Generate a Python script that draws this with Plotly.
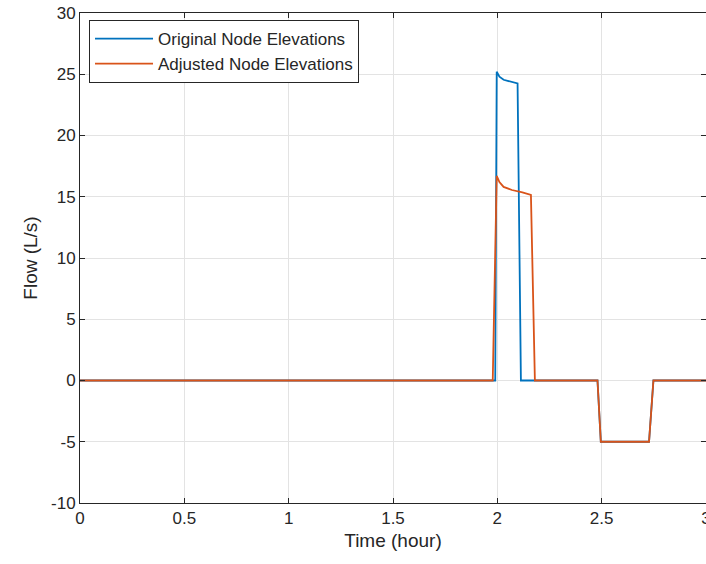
import plotly.graph_objects as go

# Data
t_orig = [0, 1.99, 1.997, 2.01, 2.03, 2.06, 2.097, 2.113, 2.48, 2.496, 2.727, 2.748, 3.0]
q_orig = [0, 0, 25.2, 24.8, 24.55, 24.4, 24.25, 0, 0, -5, -5, 0, 0]

t_adj = [0, 1.978, 1.997, 2.01, 2.03, 2.07, 2.12, 2.161, 2.18, 2.48, 2.496, 2.727, 2.748, 3.0]
q_adj = [0, 0, 16.7, 16.2, 15.8, 15.55, 15.35, 15.15, 0, 0, -5, -5, 0, 0]

x_ticks = [0, 0.5, 1, 1.5, 2, 2.5, 3]
x_ticklabels = ["0", "0.5", "1", "1.5", "2", "2.5", "3"]
y_ticks = [-10, -5, 0, 5, 10, 15, 20, 25, 30]
y_ticklabels = ["-10", "-5", "0", "5", "10", "15", "20", "25", "30"]

FONT = "Liberation Sans, Arial"
TXT = "#262626"

fig = go.Figure()
fig.add_trace(go.Scatter(x=t_orig, y=q_orig, mode="lines", name="Original Node Elevations",
                         line=dict(color="#0072BD", width=1.8)))
fig.add_trace(go.Scatter(x=t_adj, y=q_adj, mode="lines", name="Adjusted Node Elevations",
                         line=dict(color="#D95319", width=1.8)))

axis_common = dict(showgrid=True, gridcolor="#E3E3E3", gridwidth=1,
                   showline=True, linecolor=TXT, linewidth=1, mirror="ticks",
                   ticks="inside", ticklen=5, tickcolor=TXT, zeroline=False,
                   ticklabeloverflow="allow", automargin=False,
                   tickfont=dict(family=FONT, size=17, color=TXT))

fig.update_xaxes(range=[0, 3], tickvals=x_ticks, ticktext=x_ticklabels,
                 title=dict(text="Time (hour)", font=dict(family=FONT, size=19, color=TXT), standoff=6),
                 **axis_common)
fig.update_yaxes(range=[-10, 30], tickvals=y_ticks, ticktext=y_ticklabels,
                 title=dict(text="Flow (L/s)", font=dict(family=FONT, size=19, color=TXT), standoff=8),
                 **axis_common)

fig.update_layout(
    width=706, height=564,
    margin=dict(l=80, r=0, t=13, b=61),
    paper_bgcolor="white", plot_bgcolor="white",
    font=dict(family=FONT, color=TXT),
    legend=dict(x=0.0144, y=0.9857, xanchor="left", yanchor="top",
                bgcolor="white", bordercolor=TXT, borderwidth=1,
                font=dict(family=FONT, size=17, color=TXT),
                tracegroupgap=0, itemwidth=58),
    showlegend=True,
)

fig.write_html("out.html")
